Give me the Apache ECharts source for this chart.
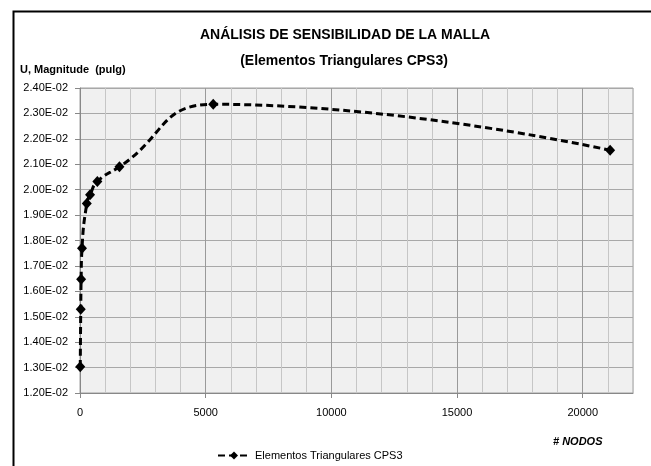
<!DOCTYPE html>
<html><head><meta charset="utf-8">
<script src="https://cdn.jsdelivr.net/npm/echarts@6/dist/echarts.min.js"></script>
<style>html,body{margin:0;padding:0;background:#fff}#c{width:651px;height:466px}</style>
</head><body><div id="c"></div>
<script>
const titleLines = ['ANÁLISIS DE SENSIBILIDAD DE LA MALLA', '(Elementos Triangulares CPS3)'];
const yAxisTitle = 'U, Magnitude  (pulg)';
const xAxisTitle = '# NODOS';
const seriesName = 'Elementos Triangulares CPS3';
const nodes = [10, 30, 45, 80, 270, 400, 690, 1570, 5300, 21090];
const displacement = [0.01303, 0.01530, 0.01648, 0.01770, 0.01946, 0.01980, 0.02032, 0.02090, 0.02336, 0.02155];
const xMin = 0, xMax = 22000, xMajor = 5000, xMinor = 1000;
const yMin = 0.012, yMax = 0.024, yStep = 0.001;

const FONT = '"Liberation Sans", sans-serif';
const chart = echarts.init(document.getElementById('c'), null, {renderer: 'canvas'});
const grid = {left: 80, top: 88, right: 18, bottom: 73, show: true, backgroundColor: '#f0f0f0', borderColor: '#a0a0a0', borderWidth: 1};
chart.setOption({
  animation: false,
  title: [
    {text: titleLines[0], left: 340, top: 23, textAlign: 'center', textStyle: {fontFamily: FONT, fontWeight: 'bold', fontSize: 14, color: '#000'}},
    {text: titleLines[1], left: 339, top: 49, textAlign: 'center', textStyle: {fontFamily: FONT, fontWeight: 'bold', fontSize: 14, color: '#000'}}
  ],
  graphic: [
    {type: 'rect', left: 11, top: 9, shape: {width: 700, height: 500}, style: {fill: 'none', stroke: '#000', lineWidth: 2}, silent: true},
    {type: 'text', left: 20, top: 64, style: {text: yAxisTitle, font: 'bold 11px ' + FONT, fill: '#000'}},
    {type: 'text', left: 553, top: 436, style: {text: xAxisTitle, font: 'italic bold 11px ' + FONT, fill: '#000'}}
  ],
  legend: {
    left: 212, top: 445, itemWidth: 32, itemHeight: 10, itemGap: 6,
    textStyle: {fontFamily: FONT, fontSize: 11, color: '#000'},
    data: [seriesName]
  },
  grid: grid,
  xAxis: [
    {type: 'value', min: xMin, max: xMax, interval: xMajor,
     axisLine: {show: true, onZero: false, lineStyle: {color: '#888', width: 1}},
     axisTick: {show: true, length: 5, inside: false, lineStyle: {color: '#888'}},
     axisLabel: {showMaxLabel: false, margin: 14, fontFamily: FONT, fontSize: 11, color: '#000', formatter: v => String(v)},
     splitLine: {show: false}},
    {type: 'value', min: xMin, max: xMax, interval: xMinor, position: 'bottom',
     axisLine: {show: false}, axisTick: {show: false}, axisLabel: {show: false},
     splitLine: {show: true, lineStyle: {color: ['#9a9a9a', '#c6c6c6', '#c6c6c6', '#c6c6c6', '#c6c6c6'], width: 1}}}
  ],
  yAxis: {type: 'value', min: yMin, max: yMax, interval: yStep,
    axisLine: {show: true, onZero: false, lineStyle: {color: '#888'}},
    axisTick: {show: true, length: 5, lineStyle: {color: '#888'}},
    axisLabel: {margin: 12, fontFamily: FONT, fontSize: 11, color: '#000',
      formatter: v => (v * 100).toFixed(2) + 'E-02'},
    splitLine: {show: true, lineStyle: {color: '#a8a8a8', width: 1}}},
  series: [{
    name: seriesName, type: 'line', xAxisIndex: 0, smooth: 0.5,
    data: nodes.map((n, i) => [n, displacement[i]]),
    symbol: 'path://M0,-1L1,0L0,1L-1,0Z', symbolSize: [10, 11], showAllSymbol: true,
    itemStyle: {color: '#000'},
    lineStyle: {color: '#000', width: 3, type: [7, 4]}
  }]
});
</script></body></html>
